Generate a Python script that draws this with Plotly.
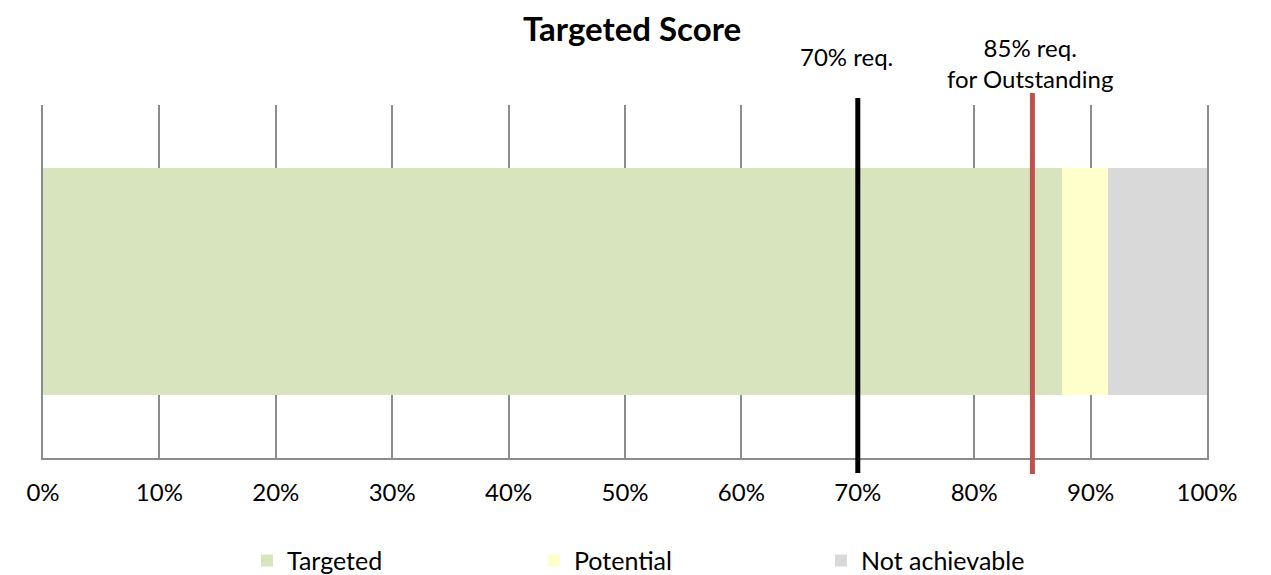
import plotly.graph_objects as go

# ---- data ----
categories = ["Score"]
series_names = ["Targeted", "Potential", "Not achievable"]
series_values = [0.875, 0.04, 0.085]
series_colors = ["#D7E4BD", "#FFFFCC", "#D9D9D9"]
threshold_values = [0.70, 0.85]
threshold_labels = ["70% req.", "85% req.<br>for Outstanding"]
threshold_colors = ["#000000", "#C0504D"]
tick_values = [i / 10 for i in range(11)]
tick_labels = [f"{i*10}%" for i in range(11)]

FONT = "Lato"
GRID = "#8C8C8C"

fig = go.Figure()
for name, val, col in zip(series_names, series_values, series_colors):
    fig.add_trace(go.Bar(
        y=categories, x=[val], name=name, orientation="h",
        marker=dict(color=col, line=dict(width=0)), width=0.643,
        hoverinfo="name+x",
    ))

# threshold lines extending beyond the plot area
line_extents = [(-0.0425, 1.0198), (-0.045, 1.034)]
for v, col, (y0, y1) in zip(threshold_values, threshold_colors, line_extents):
    fig.add_shape(type="line", xref="x", yref="paper", x0=v, x1=v, y0=y0, y1=y1,
                  line=dict(color=col, width=5), layer="above")

# threshold annotations
fig.add_annotation(x=threshold_values[0], xref="x", y=1.136, yref="paper",
                   text=threshold_labels[0], showarrow=False, xshift=-11,
                   font=dict(family=FONT, size=24, color="#000"), yanchor="middle")
fig.add_annotation(x=threshold_values[1], xref="x", y=1.12, yref="paper",
                   text=threshold_labels[1], showarrow=False, xshift=-2,
                   font=dict(family=FONT, size=24, color="#000"), yanchor="middle")

fig.update_layout(
    barmode="stack",
    width=1271, height=575,
    margin=dict(l=43, r=64, t=105, b=117),
    paper_bgcolor="white", plot_bgcolor="white",
    title=dict(text="<b>Targeted Score</b>", x=632 / 1271, xref="container", xanchor="center",
               y=0.948, yref="container", yanchor="middle",
               font=dict(family=FONT, size=33, color="#000")),
    font=dict(family=FONT, size=24, color="#000"),
    showlegend=True,
    legend=dict(orientation="h", x=247 / 1271, xanchor="left", xref="container",
                y=0.025, yref="container", yanchor="middle",
                font=dict(family=FONT, size=25, color="#000"),
                entrywidth=242, entrywidthmode="pixels", traceorder="normal"),
    xaxis=dict(range=[0, 1], tickvals=tick_values, ticktext=tick_labels,
               showgrid=True, gridcolor=GRID, gridwidth=2,
               showline=True, linecolor=GRID, linewidth=2,
               ticks="outside", ticklen=12, tickcolor="rgba(0,0,0,0)",
               tickfont=dict(family=FONT, size=24, color="#000"),
               zeroline=False, fixedrange=True),
    yaxis=dict(range=[-0.5, 0.5], showticklabels=False, showgrid=False,
               zeroline=False, showline=True, mirror=True, linecolor=GRID,
               linewidth=2, ticks="", fixedrange=True),
)

fig.write_html("out.html")
